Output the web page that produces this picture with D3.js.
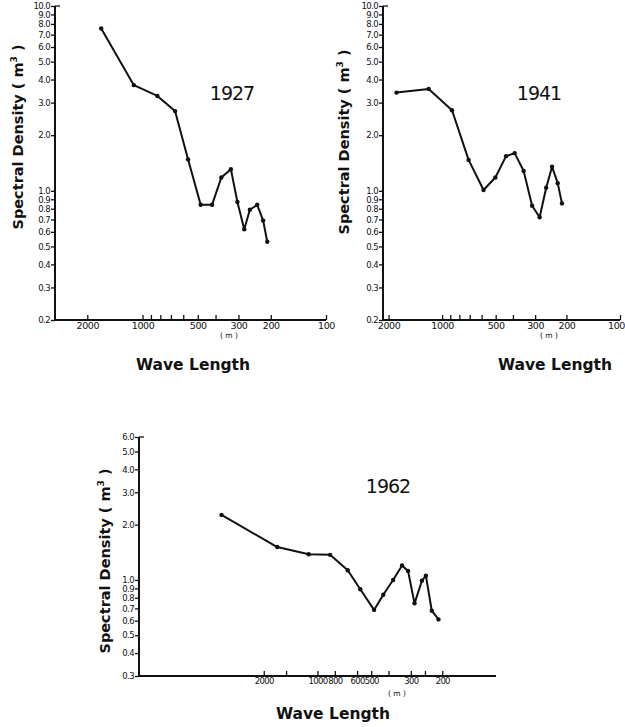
<!DOCTYPE html>
<html>
<head>
<meta charset="utf-8">
<script src="https://cdn.jsdelivr.net/npm/d3@7"></script>
<style>
  html, body { margin: 0; padding: 0; background: #fff; }
  svg { display: block; }
  text { font-family: "DejaVu Sans", sans-serif; fill: #111; }
</style>
</head>
<body>
<svg id="chart" width="625" height="727"></svg>
<script>
// ---- Data ----
const wl1927 = [1680, 1115, 830, 665, 565, 482, 418, 372, 330, 304, 279, 260, 237, 220, 209];
const sd1927 = [7.55, 3.73, 3.26, 2.70, 1.48, 0.84, 0.84, 1.18, 1.31, 0.87, 0.62, 0.79, 0.84, 0.69, 0.53];

const wl1941 = [1805, 1190, 880, 710, 585, 502, 437, 391, 348, 312, 283, 260, 241, 224, 212];
const sd1941 = [3.40, 3.56, 2.73, 1.47, 1.01, 1.18, 1.54, 1.60, 1.28, 0.83, 0.72, 1.04, 1.35, 1.10, 0.855];

const wl1962 = [3450, 1680, 1120, 850, 677, 576, 482, 428, 377, 336, 311, 286, 260, 247, 229, 210];
const sd1962 = [2.26, 1.51, 1.38, 1.37, 1.13, 0.89, 0.687, 0.83, 1.0, 1.20, 1.12, 0.746, 0.99, 1.055, 0.68, 0.61];

// tick values / labels
const yTicksTop = [10, 9, 8, 7, 6, 5, 4, 3, 2, 1, 0.9, 0.8, 0.7, 0.6, 0.5, 0.4, 0.3, 0.2];
const yTicks1962 = [6, 5, 4, 3, 2, 1, 0.9, 0.8, 0.7, 0.6, 0.5, 0.4, 0.3];
const xTicksTop = [2000, 1000, 900, 800, 700, 600, 500, 400, 300, 200, 100];
const xLabelsTop = [2000, 1000, 500, 300, 200, 100];
const xTicks1962 = [2000, 1500, 1000, 800, 600, 500, 400, 300, 250, 200];
const xLabels1962 = [2000, 1000, 800, 600, 500, 300, 200];

const svg = d3.select("#chart");

function panel(cfg) {
  const x = d3.scaleLog().domain(cfg.xDomain).range([cfg.x0, cfg.x1]);
  const y = d3.scaleLog().domain(cfg.yDomain).range([cfg.y0, cfg.y1]);
  const g = svg.append("g");

  // y axis
  const yAxis = d3.axisLeft(y).tickValues(cfg.yTicks).tickSize(4).tickPadding(1)
    .tickFormat(d => d.toFixed(1));
  const ga = g.append("g").attr("transform", `translate(${cfg.x0},0)`).call(yAxis);
  ga.select(".domain").attr("d", `M0,${cfg.y1}V${cfg.y0}`).attr("stroke", "#111").attr("stroke-width", 2);
  ga.selectAll(".tick line").attr("stroke", "#111").attr("stroke-width", 1.3);
  ga.selectAll(".tick text").style("font-size", "8.5px").attr("letter-spacing", "-0.6").attr("fill", "#111");
  // small inner mark at the top tick
  g.append("line").attr("x1", cfg.x0).attr("x2", cfg.x0 + 5)
    .attr("y1", y(cfg.yDomain[1])).attr("y2", y(cfg.yDomain[1])).attr("stroke", "#111").attr("stroke-width", 1.3);

  // x axis (ticks pointing up)
  const xAxis = d3.axisBottom(x).tickValues(cfg.xTicks).tickSize(-5).tickPadding(2)
    .tickFormat(d => cfg.xLabels.includes(d) ? String(d) : "");
  const gx = g.append("g").attr("transform", `translate(0,${cfg.y0})`).call(xAxis);
  gx.select(".domain").attr("d", `M${cfg.x0},0H${cfg.x1}`).attr("stroke", "#111").attr("stroke-width", 2);
  gx.selectAll(".tick line").attr("stroke", "#111").attr("stroke-width", 1.3);
  gx.selectAll(".tick text").style("font-size", cfg.xFont).attr("letter-spacing", cfg.xSpacing).attr("fill", "#111")
    .attr("dx", d => (d === 100 && cfg.shiftLast) ? -4 : 0);

  // data line
  const pts = cfg.wl.map((w, i) => [w, cfg.sd[i]]);
  g.append("path").datum(pts)
    .attr("d", d3.line().x(d => x(d[0])).y(d => y(d[1])))
    .attr("fill", "none").attr("stroke", "#111").attr("stroke-width", 2).attr("stroke-linejoin", "round");
  g.selectAll("circle.pt").data(pts).join("circle").attr("class", "pt")
    .attr("cx", d => x(d[0])).attr("cy", d => y(d[1])).attr("r", 2.2).attr("fill", "#111");

  // year label
  g.append("text").attr("x", cfg.yearX).attr("y", cfg.yearY).attr("text-anchor", "middle")
    .style("font-size", "19px").attr("letter-spacing", "-1").text(cfg.year);

  // y title
  const yt = g.append("text").attr("transform", `translate(${cfg.ytX},${cfg.ytY}) rotate(-90)`)
    .attr("text-anchor", "middle").style("font-size", "14.5px").attr("font-weight", "bold");
  yt.append("tspan").text("Spectral  Density  ( m");
  yt.append("tspan").attr("dy", -6).style("font-size", "9px").text("3");
  yt.append("tspan").attr("dy", 6).text(" )");

  // x title
  g.append("text").attr("x", cfg.xtX).attr("y", cfg.xtY).attr("text-anchor", "middle")
    .style("font-size", "15.5px").attr("font-weight", "bold").text("Wave  Length");
  g.append("text").attr("x", cfg.mX).attr("y", cfg.mY).attr("text-anchor", "middle")
    .style("font-size", "7.5px").text("( m )");
}

panel({
  wl: wl1927, sd: sd1927, year: "1927",
  xDomain: [3000, 100], x0: 55, x1: 326,
  yDomain: [0.2, 10], y0: 320, y1: 6,
  yTicks: yTicksTop, xTicks: xTicksTop, xLabels: xLabelsTop,
  xFont: "9.5px", xSpacing: "-0.4",
  yearX: 232, yearY: 100, ytX: 23, ytY: 137,
  xtX: 193, xtY: 370, mX: 229, mY: 338
});

panel({
  wl: wl1941, sd: sd1941, year: "1941",
  xDomain: [2150, 100], x0: 383, x1: 620, shiftLast: true,
  yDomain: [0.2, 10], y0: 320, y1: 6,
  yTicks: yTicksTop, xTicks: xTicksTop, xLabels: xLabelsTop,
  xFont: "9.5px", xSpacing: "-0.4",
  yearX: 539, yearY: 100, ytX: 349, ytY: 142,
  xtX: 555, xtY: 370, mX: 549, mY: 338
});

panel({
  wl: wl1962, sd: sd1962, year: "1962",
  xDomain: [10000, 100], x0: 139, x1: 496,
  yDomain: [0.3, 6], y0: 676, y1: 437,
  yTicks: yTicks1962, xTicks: xTicks1962, xLabels: xLabels1962,
  xFont: "8.5px", xSpacing: "-0.7",
  yearX: 388, yearY: 493, ytX: 110, ytY: 561,
  xtX: 333, xtY: 719, mX: 397, mY: 696
});
</script>
</body>
</html>
